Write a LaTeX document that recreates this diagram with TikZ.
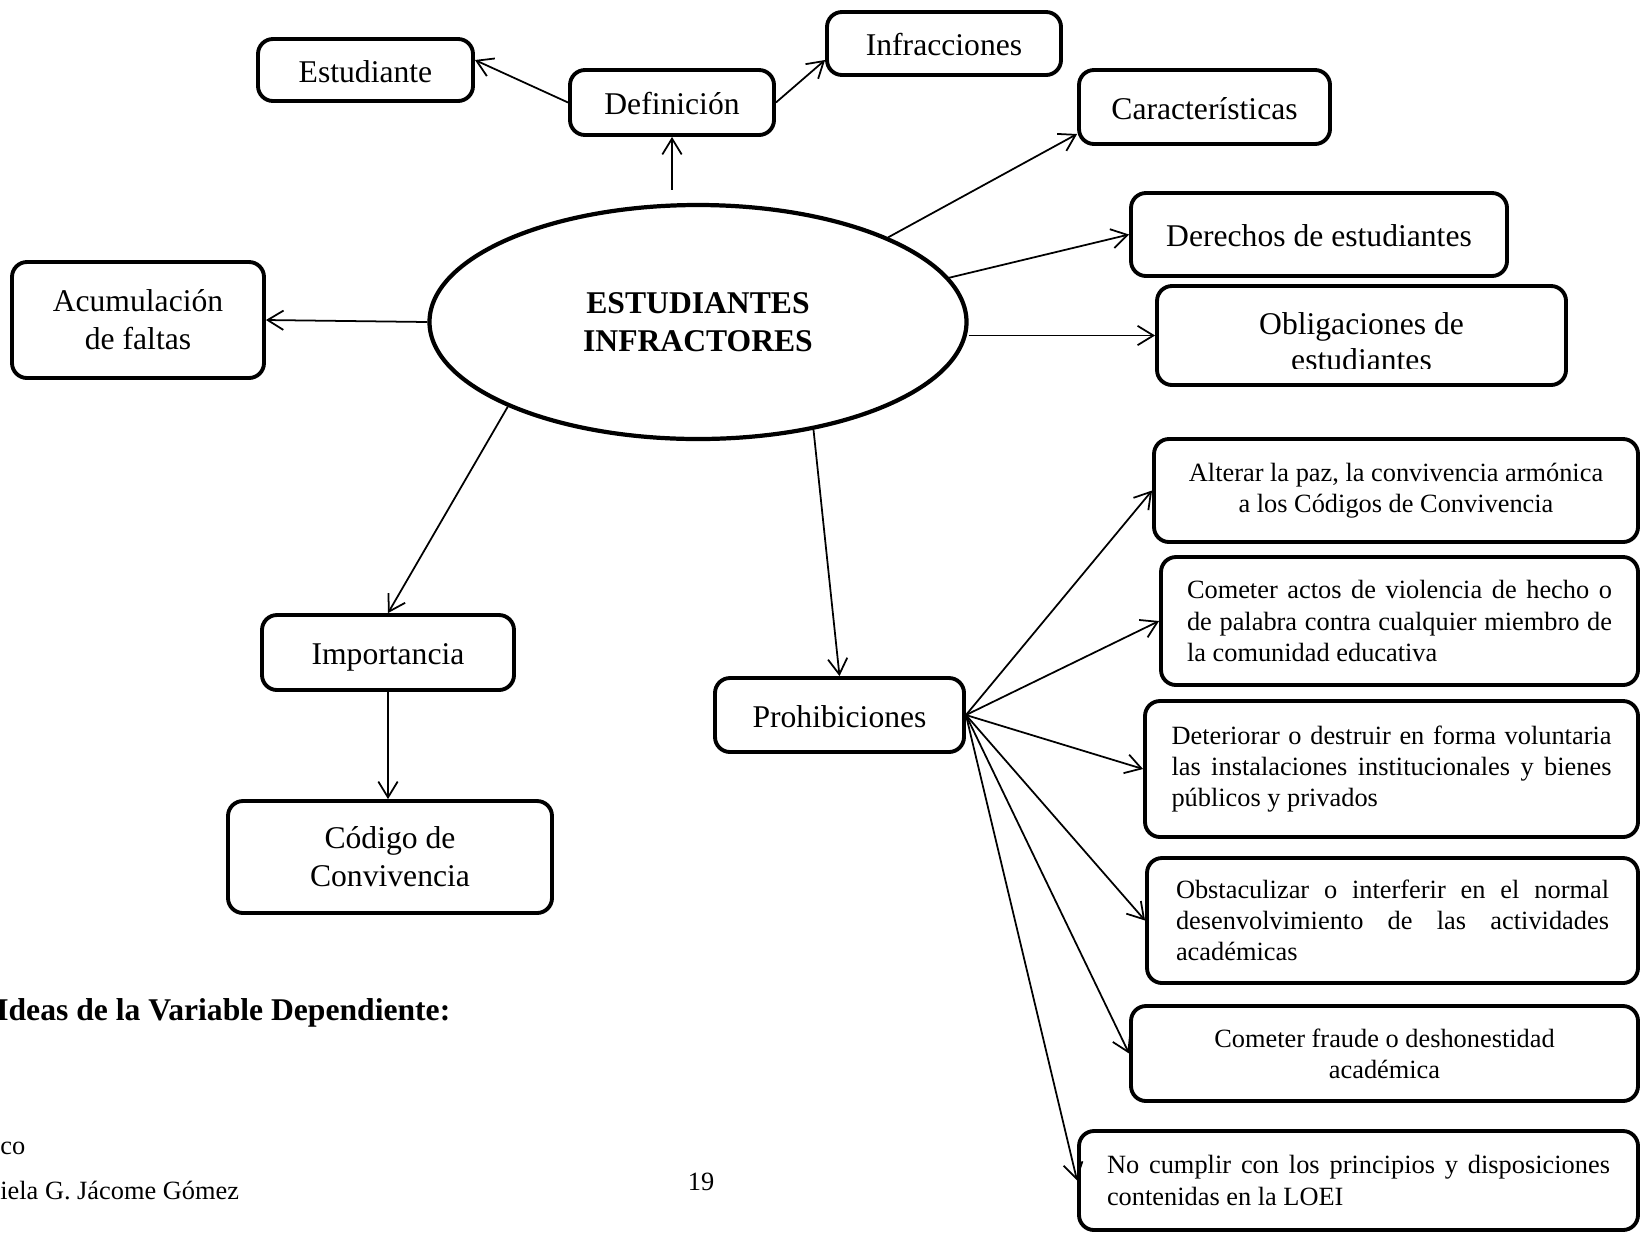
\documentclass[tikz,border=0pt]{standalone}
\usepackage{fontspec}
\setmainfont{Liberation Serif}
\usetikzlibrary{positioning, arrows.meta, shapes.geometric}
\hyphenpenalty=10000
\tolerance=9999

\begin{document}
\begin{tikzpicture}[
    box/.style={draw, line width=2.2pt, rounded corners=0.3cm, align=center,
                font=\fontsize{18}{21.5}\selectfont},
    onebox/.style={box, text height=14.2pt, text depth=0pt},
    ideabox/.style={box, font=\fontsize{15}{17.8}\selectfont},
    arr/.style={-{Straight Barb[length=9pt, width=11pt]}, line width=1pt}]
  \useasboundingbox (0,0) rectangle (32.8,-24.64);
  % centre
  \node[ellipse, draw, line width=2.4pt, minimum width=10.74cm, minimum height=4.68cm,
        align=center, font=\bfseries\fontsize{18}{21.5}\selectfont] (ei) at (13.96,-6.44)
        {ESTUDIANTES\\INFRACTORES};
  % upper branch
  \node[onebox, minimum width=4.08cm, minimum height=1.30cm] (def) at (13.44,-2.05) {Definición};
  \node[onebox, minimum width=4.30cm, minimum height=1.24cm] (est) at (7.31,-1.40) {Estudiante};
  \node[onebox, minimum width=4.68cm, minimum height=1.26cm] (inf) at (18.88,-0.87) {Infracciones};
  \node[onebox, minimum width=5.02cm, minimum height=1.48cm] (car) at (24.09,-2.14) {Características};
  \node[onebox, minimum width=7.52cm, minimum height=1.66cm] (der) at (26.38,-4.69) {Derechos de estudiantes};
  \node[box, minimum width=8.18cm, minimum height=1.98cm] (obl) at (27.23,-6.71) {};
  \begin{scope}
    \clip (obl.north west) rectangle ([yshift=0.36cm]obl.south east);
    \node[align=center, font=\fontsize{18}{20.4}\selectfont] (obltext)
          at ([yshift=-0.12cm]obl.center) {Obligaciones de\\estudiantes};
  \end{scope}
  \node[box, minimum width=5.04cm, minimum height=2.32cm] (acu) at (2.76,-6.40) {Acumulación\\de faltas};
  % lower branch
  \node[onebox, minimum width=5.04cm, minimum height=1.50cm] (imp) at (7.76,-13.05) {Importancia};
  \node[box, minimum width=6.48cm, minimum height=2.24cm] (cod) at (7.80,-17.14) {Código de\\Convivencia};
  \node[onebox, minimum width=4.98cm, minimum height=1.48cm] (pro) at (16.79,-14.30) {Prohibiciones};
  % prohibiciones
  \node[ideabox, minimum width=9.68cm, minimum height=2.06cm] (ia) at (27.92,-9.81)
       {Alterar la paz, la convivencia armónica\\a los Códigos de Convivencia};
  \node[ideabox, align=justify, text width=8.5cm, minimum width=9.54cm, minimum height=2.56cm] (ib) at (27.99,-12.42)
       {Cometer actos de violencia de hecho o de palabra contra cualquier miembro de la comunidad educativa};
  \node[ideabox, align=justify, text width=8.8cm, minimum width=9.86cm, minimum height=2.72cm] (ic) at (27.83,-15.38)
       {Deteriorar o destruir en forma voluntaria las instalaciones institucionales y bienes públicos y privados};
  \node[ideabox, align=justify, text width=8.66cm, minimum width=9.82cm, minimum height=2.50cm] (id) at (27.85,-18.41)
       {Obstaculizar o interferir en el normal desenvolvimiento de las actividades académicas};
  \node[ideabox, minimum width=10.14cm, minimum height=1.90cm] (ie) at (27.69,-21.07)
       {Cometer fraude o deshonestidad\\académica};
  \node[ideabox, align=justify, text width=10.06cm, minimum width=11.18cm, minimum height=1.98cm] (if) at (27.17,-23.61)
       {No cumplir con los principios y disposiciones contenidas en la LOEI};
  % page text
  \node[anchor=base west, inner sep=0pt, font=\bfseries\fontsize{18}{21.5}\selectfont] (ideas)
       at (-0.08,-20.40) {Ideas de la Variable Dependiente:};
  \node[anchor=base west, inner sep=0pt, font=\fontsize{15}{18}\selectfont] (pie1) at (0,-23.08) {co};
  \node[anchor=base west, inner sep=0pt, font=\fontsize{15}{18}\selectfont] (pie2) at (0,-23.98) {iela G. Jácome Gómez};
  \node[anchor=base, inner sep=0pt, font=\fontsize{15}{18}\selectfont] (pag) at (14.02,-23.80) {19};
  % connectors
  \coordinate (eitop) at ([yshift=0.26cm]ei.north);
  \draw[arr] (eitop -| def.south) -- (def.south);
  \draw[arr] (def.west) -- ([yshift=0.2cm]est.east);
  \draw[arr] (def.east) -- ([yshift=-0.33cm]inf.west);
  \draw[arr] (ei.24) -- ([yshift=-0.54cm]car.west);
  \draw[arr] (ei.10.5) -- (der.west);
  \draw[arr] (obl.west -| ei.east) -- (obl.west);
  \draw[arr] (ei.west) -- (acu.east);
  \draw[arr] (ei.204) -- (imp.north);
  \draw[arr] (ei.-43) -- (pro.north);
  \draw[arr] (imp.south) -- (imp.south |- cod.north);
  \foreach \x in {ia, ib, ic, id, ie, if}
    \draw[arr] (pro.east) -- (\x.west);
\end{tikzpicture}
\end{document}
